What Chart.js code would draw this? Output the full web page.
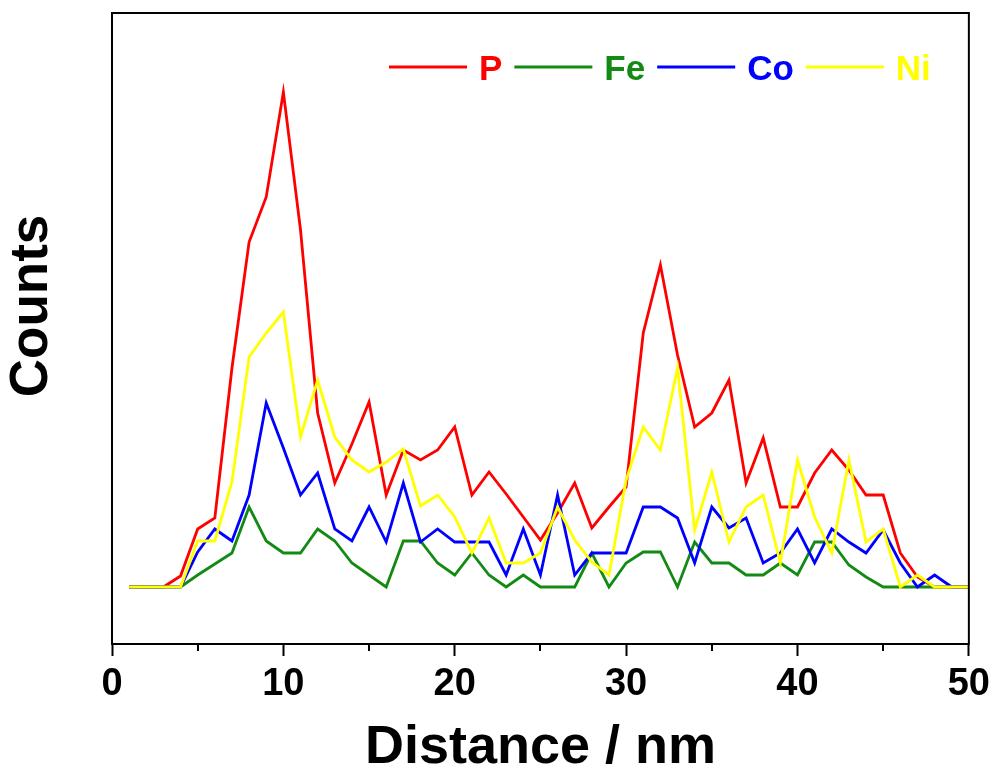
<!DOCTYPE html>
<html>
<head>
<meta charset="utf-8">
<title>Line scan</title>
<script src="https://cdn.jsdelivr.net/npm/chart.js@4/dist/chart.umd.min.js"></script>
<style>
    html, body { margin: 0; padding: 0; background: #fff; }
    #wrap { width: 996px; height: 781px; position: relative; }
</style>
</head>
<body>
<div id="wrap"><canvas id="scan"></canvas></div>
<script>
// distance along the line scan (nm)
const distance = [1, 2, 3, 4, 5, 6, 7, 8, 9, 10, 11, 12, 13, 14, 15, 16, 17, 18, 19, 20,
    21, 22, 23, 24, 25, 26, 27, 28, 29, 30, 31, 32, 33, 34, 35, 36, 37, 38, 39, 40,
    41, 42, 43, 44, 45, 46, 47, 48, 49, 50];

// counts per element (arbitrary units)
const countsP = [0, 0, 0, 11, 58, 69, 219, 345, 390, 495, 357, 174, 104, 143, 185, 92, 137, 127, 137, 160,
    92, 115, 93, 70, 47, 74, 104, 59, 80, 100, 254, 322, 232, 160, 174, 207, 104, 149, 80, 80,
    114, 137, 117, 92, 92, 34, 10, 0, 0, 0];
const countsFe = [0, 0, 0, 0, 12, 23, 34, 80, 46, 34, 34, 58, 46, 24, 12, 0, 46, 46, 24, 12,
    34, 12, 0, 12, 0, 0, 0, 34, 0, 24, 35, 35, 0, 45, 24, 24, 12, 12, 24, 12,
    45, 45, 22, 10, 0, 0, 0, 0, 0, 0];
const countsCo = [0, 0, 0, 0, 35, 58, 46, 92, 184, 139, 92, 114, 58, 46, 80, 45, 104, 45, 58, 45,
    45, 45, 12, 58, 12, 92, 12, 34, 34, 34, 80, 80, 69, 24, 80, 59, 69, 24, 34, 58,
    24, 58, 45, 34, 57, 24, 0, 12, 0, 0];
const countsNi = [0, 0, 0, 0, 46, 46, 105, 230, 254, 275, 150, 207, 150, 127, 115, 125, 138, 81, 92, 70,
    34, 69, 24, 24, 34, 80, 47, 25, 12, 107, 160, 137, 219, 57, 115, 45, 80, 92, 24, 127,
    70, 34, 127, 45, 58, 0, 12, 0, 0, 0];

const xTicks = [0, 10, 20, 30, 40, 50];
const xMinorTicks = [5, 15, 25, 35, 45];

const elements = ['P', 'Fe', 'Co', 'Ni'];
const colors = ['#ff0000', '#138a13', '#0000ff', '#ffff00'];
const seriesList = [countsP, countsFe, countsCo, countsNi];

const FONT = "'Liberation Sans', Arial, sans-serif";

function toPoints(values) {
    return distance.map((d, i) => ({ x: d, y: values[i] }));
}

// frame, minor ticks, legend and y title
const framePlugin = {
    id: 'frame',
    afterDraw(chart) {
        const ctx = chart.ctx;
        const area = chart.chartArea;
        const xs = chart.scales.x;
        ctx.save();
        ctx.strokeStyle = '#000';
        ctx.lineWidth = 2;
        ctx.strokeRect(area.left, area.top, area.right - area.left, area.bottom - area.top);

        // minor ticks
        xMinorTicks.forEach(v => {
            const px = Math.round(xs.getPixelForValue(v));
            ctx.beginPath();
            ctx.moveTo(px, area.bottom);
            ctx.lineTo(px, area.bottom + 7);
            ctx.stroke();
        });

        // legend inside plot, top right
        ctx.font = 'bold 35px ' + FONT;
        ctx.textBaseline = 'alphabetic';
        ctx.textAlign = 'left';
        let cx = 389;
        chart.data.datasets.forEach(ds => {
            ctx.strokeStyle = ds.borderColor;
            ctx.lineWidth = 2.8;
            ctx.beginPath();
            ctx.moveTo(cx, 67);
            ctx.lineTo(cx + 78, 67);
            ctx.stroke();
            cx += 90;
            ctx.fillStyle = ds.borderColor;
            ctx.fillText(ds.label, cx, 80);
            cx += ctx.measureText(ds.label).width + 12;
        });

        // y axis title
        ctx.translate(32, 306);
        ctx.rotate(-Math.PI / 2);
        ctx.font = 'bold 53px ' + FONT;
        ctx.fillStyle = '#000';
        ctx.textAlign = 'center';
        ctx.textBaseline = 'middle';
        ctx.fillText('Counts', 0, 0);
        ctx.restore();
    }
};

new Chart(document.getElementById('scan'), {
    type: 'line',
    data: {
        datasets: elements.map((el, i) => ({
            label: el,
            data: toPoints(seriesList[i]),
            borderColor: colors[i],
            backgroundColor: colors[i],
            borderWidth: 2.8,
            pointRadius: 0,
            tension: 0,
            fill: false,
            order: elements.length - i
        }))
    },
    options: {
        responsive: true,
        maintainAspectRatio: false,
        animation: false,
        events: [],
        layout: {
            autoPadding: false,
            padding: { left: 112, right: 24, top: 13, bottom: 0 }
        },
        plugins: {
            legend: { display: false },
            tooltip: { enabled: false }
        },
        scales: {
            x: {
                type: 'linear',
                min: 0,
                max: 50,
                afterBuildTicks: scale => {
                    scale.ticks = xTicks.map(v => ({ value: v }));
                },
                afterFit: scale => { scale.height = 137; },
                grid: {
                    display: true,
                    drawOnChartArea: false,
                    drawTicks: true,
                    tickLength: 12,
                    tickWidth: 2,
                    tickColor: '#000'
                },
                border: { display: true, color: '#000', width: 2 },
                ticks: {
                    color: '#000',
                    padding: 6,
                    maxRotation: 0,
                    autoSkip: false,
                    font: { family: FONT, size: 38, weight: 'bold' }
                },
                title: {
                    display: true,
                    text: 'Distance / nm',
                    color: '#000',
                    padding: { top: -4, bottom: 0 },
                    font: { family: FONT, size: 54, weight: 'bold' }
                }
            },
            y: {
                display: false,
                min: -57,
                max: 574
            }
        }
    },
    plugins: [framePlugin]
});
</script>
</body>
</html>
